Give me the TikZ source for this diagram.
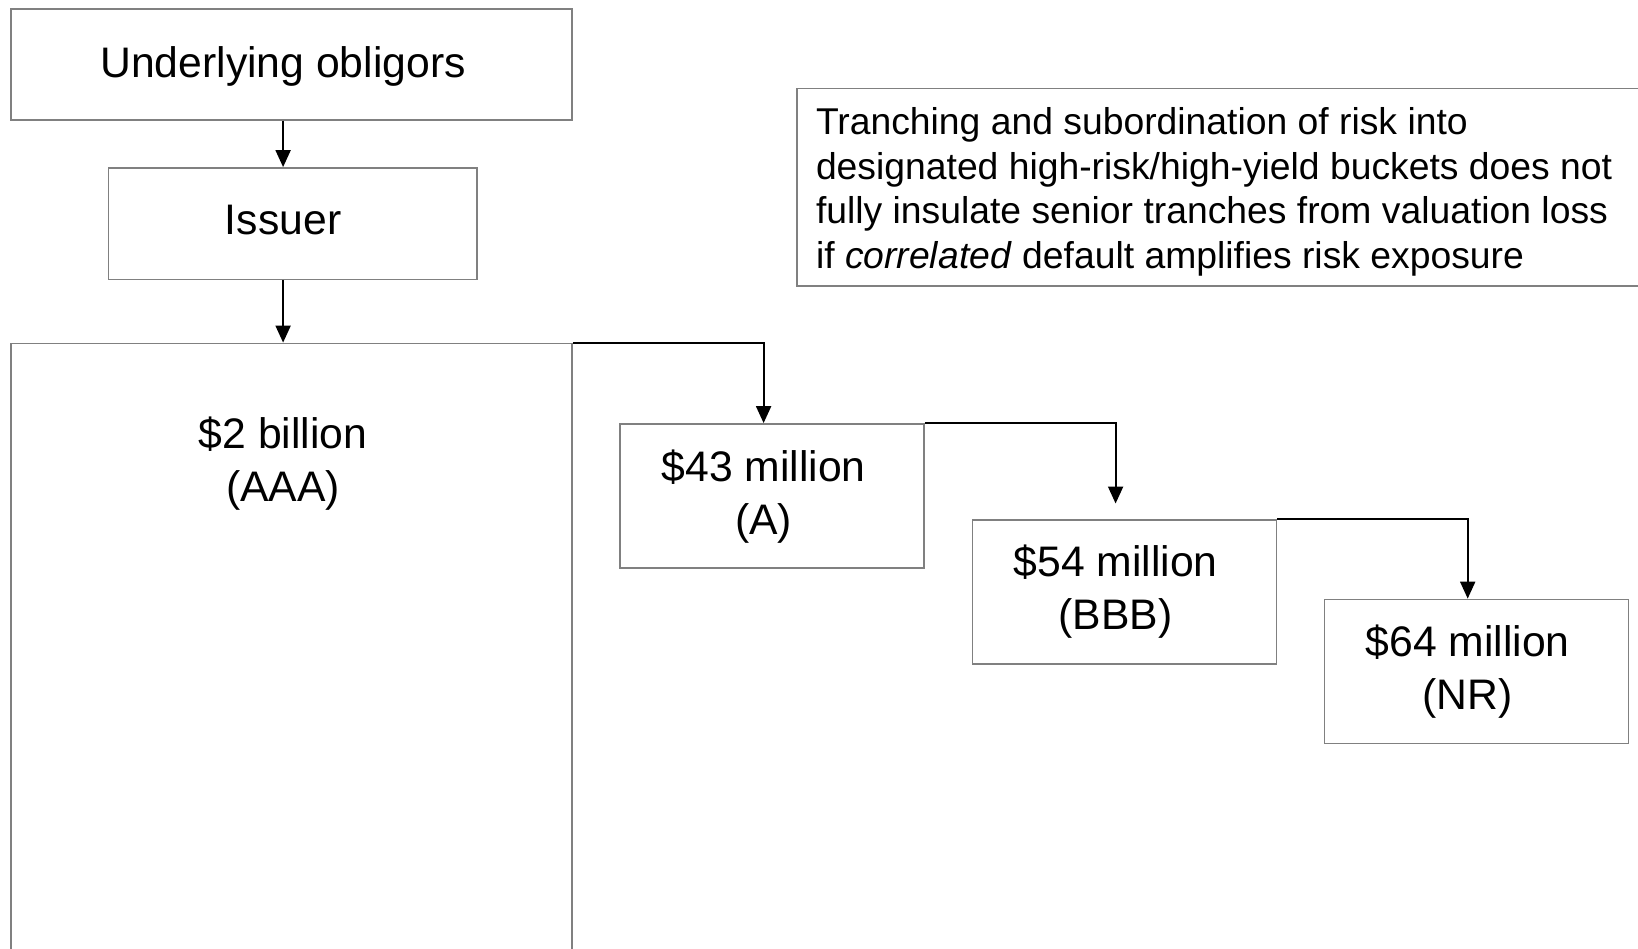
\documentclass[tikz,border=0pt]{standalone}
\usepackage{fontspec}
\setmainfont{Liberation Sans}
\usetikzlibrary{arrows.meta}
\definecolor{boxgray}{gray}{0.5}
\begin{document}
\begin{tikzpicture}[x=1pt,y=-1pt,
  box/.style={draw=boxgray, line width=1.5pt, inner sep=0pt, anchor=north west},
  lbl/.style={font=\fontsize{42.7}{53}\selectfont, align=center, inner sep=0pt},
  note/.style={font=\fontsize{37.3}{44.6}\selectfont, align=left, inner sep=0pt, anchor=north west},
  conn/.style={draw=black, line width=2pt, -{Triangle[width=15pt,length=17pt]}}]
\useasboundingbox (0,0) rectangle (1638,948);
\fill[white] (0,0) rectangle (1638,948);
% boxes
\node[box, minimum width=561pt, minimum height=110.7pt] (und) at (10.4,8.4) {};
\node[box, minimum width=368.7pt, minimum height=111.8pt] (iss) at (107.6,167.1) {};
\node[box, minimum width=561pt, minimum height=640pt] (big) at (10.4,342.6) {};
\node[box, minimum width=304pt, minimum height=144.1pt] (ta) at (619.4,423.1) {};
\node[box, minimum width=304pt, minimum height=144.1pt] (tb) at (971.5,519.2) {};
\node[box, minimum width=304pt, minimum height=144.1pt] (tn) at (1323.5,598.6) {};
\node[box, minimum width=860pt, minimum height=197.5pt] (nb) at (796.0,87.7) {};
% texts
\node[lbl] (undt) at (283.1,66.9) {Underlying obligors};
\node[lbl] (isst) at (283.1,220.4) {Issuer};
\node[lbl] (bigt) at (283.1,463.5) {\$2 billion\\(AAA)};
\node[lbl] (tat) at (763.6,497) {\$43 million\\(A)};
\node[lbl] (tbt) at (1115.6,592) {\$54 million\\(BBB)};
\node[lbl] (tnt) at (1467.7,671.4) {\$64 million\\(NR)};
\node[note] (nt) at (815.8,107.3) {Tranching and subordination of risk into\\designated high-risk/high-yield buckets does not\\fully insulate senior tranches from valuation loss\\if \textit{correlated} default amplifies risk exposure};
% connectors
\draw[conn] (und.south -| undt.center) -- (iss.north -| undt.center);
\draw[conn] (iss.south -| isst.center) -- (big.north -| isst.center);
\draw[conn] (big.north east) -| (ta.north -| tat.center);
\draw[conn, shorten >=15.7pt] (ta.north east) -| (tb.north -| tbt.center);
\draw[conn] (tb.north east) -| (tn.north -| tnt.center);
\end{tikzpicture}
\end{document}
